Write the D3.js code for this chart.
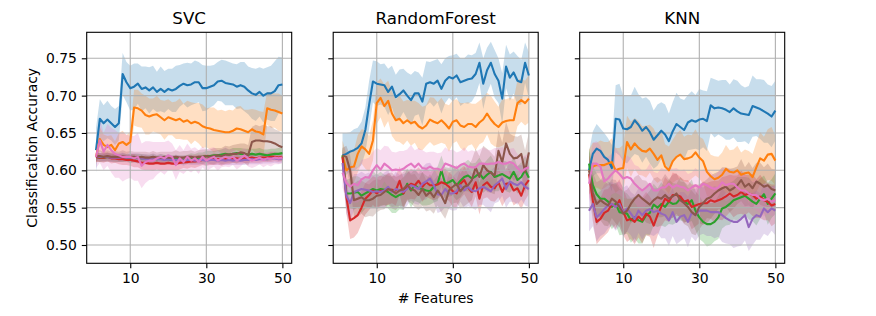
<!DOCTYPE html>
<html>
<head>
<meta charset="utf-8">
<script src="https://cdn.jsdelivr.net/npm/d3@7"></script>
<style>
  body { margin: 0; background: #fff; }
  text { font-family: "DejaVu Sans", sans-serif; fill: #000; }
</style>
</head>
<body>
<div id="chart"></div>
<script>
// number of features on the x axis
const features = [1,2,3,4,5,6,7,8,9,10,11,12,13,14,15,16,17,18,19,20,21,22,23,24,25,
  26,27,28,29,30,31,32,33,34,35,36,37,38,39,40,41,42,43,44,45,46,47,48,49,50];
const xTicks = [10, 30, 50];
const yTicks = [0.50, 0.55, 0.60, 0.65, 0.70, 0.75];
const classifiers = ["SVC", "RandomForest", "KNN"];
const seriesColors = ["#1f77b4", "#ff7f0e", "#2ca02c", "#d62728", "#9467bd", "#8c564b", "#e377c2"];

// ---- SVC: mean accuracy
const svcBlue = [0.627,0.669,0.663,0.668,0.663,0.658,0.663,0.729,0.718,0.710,0.712,0.716,0.709,0.711,0.707,0.711,0.705,0.709,0.705,0.709,
  0.707,0.709,0.713,0.716,0.714,0.715,0.718,0.718,0.710,0.710,0.712,0.714,0.719,0.720,0.717,0.716,0.715,0.712,0.714,0.712,
  0.707,0.703,0.701,0.705,0.700,0.703,0.703,0.706,0.714,0.715];
const svcOrange = [0.618,0.642,0.634,0.631,0.634,0.627,0.636,0.638,0.634,0.638,0.684,0.683,0.680,0.674,0.672,0.674,0.675,0.671,0.667,0.671,
  0.669,0.667,0.669,0.665,0.667,0.663,0.665,0.663,0.659,0.657,0.656,0.654,0.653,0.652,0.651,0.651,0.653,0.656,0.655,0.653,
  0.651,0.655,0.652,0.651,0.648,0.683,0.681,0.680,0.678,0.676];
const svcGreen = [0.618,0.617,0.617,0.618,0.617,0.617,0.616,0.617,0.617,0.616,0.616,0.617,0.616,0.616,0.615,0.616,0.615,0.616,0.615,0.615,
  0.614,0.615,0.615,0.614,0.615,0.616,0.616,0.617,0.618,0.619,0.619,0.620,0.620,0.621,0.622,0.621,0.622,0.623,0.622,0.622,
  0.621,0.622,0.621,0.622,0.621,0.620,0.621,0.622,0.622,0.623];
const svcRed = [0.618,0.617,0.617,0.618,0.616,0.616,0.615,0.615,0.614,0.614,0.613,0.612,0.610,0.610,0.609,0.609,0.610,0.609,0.609,0.610,
  0.609,0.609,0.610,0.611,0.611,0.612,0.612,0.613,0.614,0.614,0.614,0.615,0.615,0.614,0.615,0.615,0.616,0.616,0.615,0.616,
  0.616,0.617,0.616,0.617,0.617,0.617,0.618,0.618,0.617,0.618];
const svcPurple = [0.619,0.618,0.618,0.618,0.617,0.617,0.617,0.618,0.617,0.617,0.617,0.616,0.616,0.615,0.615,0.616,0.615,0.615,0.614,0.615,
  0.614,0.614,0.614,0.613,0.614,0.614,0.613,0.614,0.614,0.613,0.614,0.614,0.613,0.614,0.613,0.614,0.613,0.614,0.613,0.614,
  0.614,0.615,0.614,0.615,0.615,0.615,0.616,0.616,0.615,0.616];
const svcBrown = [0.619,0.619,0.618,0.619,0.618,0.618,0.618,0.619,0.618,0.618,0.618,0.617,0.618,0.617,0.617,0.618,0.617,0.617,0.618,0.617,
  0.617,0.618,0.617,0.617,0.618,0.618,0.617,0.618,0.618,0.619,0.618,0.619,0.620,0.619,0.621,0.621,0.622,0.622,0.624,0.623,
  0.620,0.638,0.640,0.640,0.639,0.639,0.638,0.636,0.633,0.631];
const svcPink = [0.618,0.640,0.625,0.634,0.627,0.622,0.620,0.618,0.618,0.618,0.616,0.618,0.606,0.611,0.613,0.613,0.616,0.618,0.616,0.620,
  0.618,0.607,0.616,0.611,0.618,0.613,0.616,0.611,0.618,0.613,0.616,0.618,0.613,0.616,0.618,0.616,0.618,0.613,0.616,0.620,
  0.616,0.613,0.615,0.617,0.614,0.616,0.615,0.617,0.616,0.617];

// ---- SVC: standard deviation (shaded band)
const svcBlueStd = [0.030,0.026,0.024,0.025,0.023,0.024,0.023,0.028,0.027,0.030,0.031,0.027,0.030,0.028,0.031,0.029,0.027,0.030,0.028,0.027,
  0.029,0.031,0.028,0.027,0.030,0.028,0.029,0.027,0.031,0.030,0.028,0.027,0.026,0.028,0.030,0.029,0.028,0.030,0.031,0.033,
  0.032,0.034,0.035,0.033,0.036,0.035,0.037,0.040,0.038,0.036];
const svcOrangeStd = [0.010,0.016,0.014,0.015,0.013,0.012,0.014,0.015,0.013,0.014,0.024,0.025,0.023,0.026,0.024,0.022,0.025,0.023,0.026,0.024,
  0.022,0.025,0.027,0.024,0.026,0.028,0.025,0.027,0.029,0.026,0.028,0.030,0.027,0.029,0.028,0.030,0.027,0.029,0.031,0.028,
  0.030,0.027,0.029,0.028,0.030,0.022,0.024,0.023,0.025,0.024];
const svcGreenStd = [0.006,0.006,0.005,0.006,0.005,0.006,0.005,0.006,0.005,0.006,0.006,0.005,0.006,0.005,0.006,0.006,0.005,0.006,0.006,0.005,
  0.006,0.006,0.005,0.006,0.006,0.007,0.006,0.007,0.006,0.007,0.007,0.006,0.007,0.007,0.008,0.007,0.008,0.007,0.008,0.007,
  0.008,0.007,0.008,0.008,0.007,0.008,0.008,0.007,0.008,0.008];
const svcRedStd = [0.007,0.006,0.007,0.006,0.007,0.006,0.007,0.008,0.007,0.008,0.009,0.008,0.009,0.010,0.009,0.010,0.009,0.010,0.009,0.010,
  0.009,0.010,0.009,0.008,0.009,0.008,0.009,0.008,0.007,0.008,0.007,0.008,0.007,0.008,0.007,0.007,0.006,0.007,0.006,0.007,
  0.006,0.007,0.006,0.007,0.006,0.006,0.007,0.006,0.006,0.006];
const svcPurpleStd = [0.006,0.005,0.006,0.005,0.006,0.005,0.006,0.006,0.005,0.006,0.006,0.007,0.006,0.007,0.006,0.007,0.006,0.007,0.006,0.007,
  0.006,0.007,0.006,0.007,0.006,0.007,0.006,0.007,0.006,0.007,0.006,0.007,0.006,0.007,0.006,0.007,0.006,0.007,0.006,0.007,
  0.006,0.007,0.006,0.007,0.006,0.006,0.007,0.006,0.006,0.006];
const svcBrownStd = [0.007,0.008,0.007,0.008,0.007,0.008,0.007,0.008,0.007,0.008,0.007,0.008,0.007,0.008,0.007,0.008,0.007,0.008,0.007,0.008,
  0.008,0.009,0.008,0.009,0.008,0.009,0.008,0.009,0.010,0.009,0.010,0.011,0.010,0.011,0.012,0.011,0.012,0.013,0.012,0.013,
  0.014,0.020,0.021,0.019,0.022,0.020,0.021,0.019,0.020,0.019];
const svcPinkStd = [0.015,0.030,0.025,0.028,0.030,0.032,0.030,0.033,0.030,0.028,0.030,0.032,0.030,0.028,0.026,0.025,0.022,0.020,0.022,0.020,
  0.018,0.020,0.018,0.016,0.018,0.016,0.015,0.016,0.014,0.015,0.014,0.013,0.014,0.012,0.013,0.012,0.011,0.012,0.011,0.010,
  0.011,0.010,0.010,0.009,0.010,0.009,0.010,0.009,0.008,0.008];

// ---- RandomForest: mean accuracy
const rfBlue = [0.620,0.622,0.625,0.627,0.630,0.636,0.654,0.688,0.719,0.716,0.715,0.714,0.705,0.712,0.698,0.702,0.707,0.700,0.694,0.703,
  0.703,0.692,0.716,0.718,0.716,0.720,0.709,0.720,0.725,0.723,0.727,0.718,0.720,0.722,0.723,0.729,0.744,0.716,0.734,0.744,
  0.729,0.720,0.696,0.739,0.724,0.731,0.720,0.718,0.744,0.727];
const rfOrange = [0.620,0.600,0.604,0.605,0.622,0.632,0.628,0.622,0.640,0.690,0.697,0.686,0.693,0.676,0.667,0.669,0.663,0.667,0.663,0.665,
  0.659,0.656,0.660,0.668,0.665,0.663,0.667,0.662,0.656,0.665,0.667,0.660,0.658,0.662,0.662,0.658,0.664,0.668,0.676,0.668,
  0.662,0.658,0.664,0.666,0.667,0.667,0.690,0.694,0.690,0.696];
const rfGreen = [0.620,0.569,0.569,0.570,0.571,0.566,0.569,0.572,0.575,0.573,0.575,0.574,0.571,0.567,0.564,0.567,0.569,0.582,0.573,0.580,
  0.576,0.575,0.573,0.572,0.578,0.582,0.600,0.582,0.584,0.587,0.580,0.586,0.591,0.593,0.589,0.592,0.596,0.589,0.594,0.598,
  0.591,0.593,0.595,0.592,0.589,0.598,0.587,0.591,0.600,0.590];
const rfRed = [0.618,0.565,0.533,0.536,0.540,0.550,0.562,0.567,0.573,0.569,0.573,0.572,0.575,0.574,0.573,0.586,0.569,0.578,0.582,0.580,
  0.586,0.578,0.584,0.580,0.580,0.581,0.584,0.582,0.578,0.572,0.569,0.582,0.587,0.577,0.571,0.584,0.562,0.580,0.584,0.578,
  0.576,0.584,0.571,0.582,0.583,0.573,0.576,0.566,0.580,0.587];
const rfPurple = [0.610,0.566,0.556,0.571,0.573,0.575,0.574,0.573,0.571,0.572,0.571,0.573,0.578,0.571,0.575,0.573,0.571,0.575,0.580,0.578,
  0.575,0.582,0.585,0.589,0.580,0.568,0.567,0.575,0.569,0.569,0.572,0.580,0.573,0.578,0.573,0.572,0.576,0.578,0.575,0.572,
  0.580,0.584,0.589,0.575,0.585,0.582,0.580,0.584,0.578,0.575];
const rfBrown = [0.620,0.618,0.600,0.560,0.562,0.564,0.560,0.560,0.562,0.566,0.567,0.571,0.575,0.573,0.569,0.573,0.575,0.580,0.575,0.573,
  0.567,0.575,0.566,0.571,0.564,0.573,0.566,0.556,0.573,0.578,0.582,0.572,0.578,0.580,0.587,0.604,0.591,0.607,0.600,0.597,
  0.593,0.626,0.611,0.636,0.622,0.616,0.617,0.622,0.598,0.624];
const rfPink = [0.597,0.583,0.578,0.582,0.580,0.588,0.591,0.590,0.600,0.607,0.601,0.609,0.605,0.600,0.601,0.600,0.602,0.606,0.609,0.604,
  0.609,0.603,0.602,0.605,0.602,0.602,0.600,0.609,0.607,0.605,0.603,0.607,0.609,0.605,0.604,0.604,0.609,0.609,0.608,0.609,
  0.609,0.611,0.609,0.609,0.611,0.609,0.603,0.598,0.602,0.604];

// ---- RandomForest: standard deviation
const rfBlueStd = [0.030,0.028,0.026,0.028,0.027,0.029,0.030,0.032,0.028,0.030,0.027,0.029,0.031,0.028,0.030,0.033,0.029,0.031,0.034,0.030,
  0.028,0.032,0.030,0.027,0.031,0.029,0.033,0.030,0.028,0.031,0.029,0.032,0.030,0.033,0.031,0.028,0.027,0.034,0.030,0.028,
  0.032,0.030,0.034,0.029,0.031,0.028,0.033,0.030,0.027,0.031];
const rfOrangeStd = [0.020,0.022,0.024,0.022,0.025,0.023,0.026,0.024,0.027,0.028,0.026,0.029,0.027,0.030,0.028,0.031,0.029,0.027,0.030,0.028,
  0.031,0.029,0.027,0.030,0.032,0.028,0.030,0.027,0.031,0.029,0.028,0.030,0.032,0.029,0.027,0.031,0.029,0.030,0.028,0.032,
  0.030,0.027,0.031,0.029,0.030,0.028,0.031,0.029,0.030,0.032];
const rfGreenStd = [0.012,0.018,0.020,0.022,0.021,0.023,0.020,0.022,0.024,0.021,0.023,0.020,0.022,0.024,0.021,0.019,0.022,0.020,0.023,0.021,
  0.019,0.022,0.020,0.018,0.021,0.023,0.020,0.022,0.019,0.021,0.020,0.022,0.019,0.021,0.020,0.018,0.021,0.019,0.020,0.022,
  0.019,0.021,0.018,0.020,0.019,0.021,0.018,0.020,0.019,0.020];
const rfRedStd = [0.012,0.022,0.025,0.026,0.024,0.022,0.021,0.020,0.019,0.021,0.020,0.019,0.021,0.018,0.020,0.019,0.021,0.018,0.020,0.019,
  0.018,0.020,0.019,0.018,0.020,0.019,0.018,0.020,0.019,0.021,0.018,0.020,0.019,0.018,0.020,0.019,0.021,0.018,0.020,0.019,
  0.018,0.020,0.019,0.021,0.018,0.020,0.019,0.018,0.020,0.019];
const rfPurpleStd = [0.015,0.024,0.026,0.024,0.022,0.023,0.021,0.024,0.022,0.023,0.021,0.024,0.022,0.020,0.023,0.021,0.024,0.022,0.020,0.023,
  0.021,0.022,0.024,0.021,0.023,0.025,0.022,0.024,0.021,0.023,0.025,0.022,0.024,0.026,0.023,0.025,0.022,0.024,0.026,0.028,
  0.024,0.026,0.023,0.025,0.027,0.024,0.026,0.023,0.025,0.024];
const rfBrownStd = [0.010,0.015,0.020,0.022,0.024,0.022,0.023,0.021,0.024,0.022,0.020,0.023,0.021,0.024,0.022,0.020,0.023,0.021,0.019,0.022,
  0.020,0.023,0.021,0.024,0.022,0.020,0.023,0.021,0.024,0.022,0.025,0.023,0.026,0.024,0.027,0.025,0.028,0.026,0.029,0.027,
  0.025,0.028,0.026,0.029,0.027,0.030,0.028,0.026,0.029,0.027];
const rfPinkStd = [0.020,0.024,0.022,0.025,0.023,0.026,0.024,0.027,0.025,0.023,0.026,0.024,0.027,0.025,0.023,0.026,0.024,0.022,0.025,0.023,
  0.021,0.024,0.022,0.020,0.023,0.021,0.024,0.022,0.020,0.023,0.021,0.019,0.022,0.020,0.023,0.021,0.019,0.022,0.020,0.018,
  0.021,0.019,0.022,0.020,0.018,0.021,0.019,0.020,0.018,0.019];

// ---- KNN: mean accuracy
const knnBlue = [0.600,0.622,0.629,0.626,0.618,0.614,0.603,0.669,0.668,0.656,0.655,0.658,0.667,0.661,0.653,0.658,0.651,0.641,0.647,0.653,
  0.648,0.639,0.652,0.662,0.658,0.654,0.664,0.667,0.665,0.668,0.669,0.666,0.687,0.683,0.684,0.683,0.681,0.678,0.683,0.679,
  0.676,0.675,0.674,0.686,0.684,0.682,0.679,0.676,0.672,0.680];
const knnOrange = [0.598,0.605,0.607,0.607,0.607,0.609,0.611,0.600,0.602,0.603,0.638,0.628,0.636,0.630,0.626,0.625,0.629,0.622,0.614,0.620,
  0.605,0.600,0.612,0.618,0.621,0.615,0.616,0.618,0.624,0.617,0.612,0.598,0.592,0.588,0.590,0.594,0.602,0.598,0.597,0.600,
  0.594,0.596,0.597,0.591,0.604,0.616,0.613,0.621,0.622,0.613];
const knnGreen = [0.609,0.580,0.568,0.562,0.562,0.558,0.551,0.555,0.544,0.543,0.542,0.533,0.537,0.533,0.531,0.540,0.543,0.554,0.550,0.555,
  0.551,0.558,0.555,0.556,0.562,0.558,0.555,0.560,0.546,0.537,0.531,0.528,0.528,0.531,0.537,0.549,0.551,0.555,0.560,0.562,
  0.564,0.566,0.562,0.558,0.555,0.562,0.568,0.555,0.562,0.569];
const knnRed = [0.595,0.560,0.531,0.535,0.543,0.546,0.555,0.551,0.560,0.544,0.533,0.535,0.531,0.538,0.533,0.542,0.538,0.526,0.540,0.551,
  0.562,0.558,0.567,0.567,0.565,0.558,0.560,0.551,0.553,0.555,0.556,0.556,0.560,0.558,0.560,0.562,0.565,0.569,0.565,0.567,
  0.571,0.567,0.569,0.567,0.562,0.565,0.560,0.558,0.553,0.555];
const knnPurple = [0.546,0.555,0.537,0.542,0.548,0.553,0.555,0.551,0.555,0.544,0.549,0.542,0.535,0.546,0.540,0.546,0.548,0.544,0.546,0.542,
  0.540,0.533,0.544,0.531,0.538,0.540,0.531,0.543,0.540,0.546,0.546,0.546,0.544,0.544,0.544,0.540,0.536,0.533,0.531,0.531,
  0.535,0.540,0.524,0.535,0.540,0.538,0.549,0.544,0.549,0.546];
const knnBrown = [0.600,0.570,0.555,0.560,0.556,0.553,0.562,0.558,0.551,0.542,0.546,0.555,0.562,0.567,0.562,0.558,0.554,0.560,0.564,0.562,
  0.567,0.562,0.565,0.569,0.560,0.556,0.551,0.544,0.540,0.551,0.556,0.562,0.564,0.569,0.573,0.576,0.578,0.573,0.576,0.580,
  0.587,0.578,0.582,0.576,0.585,0.582,0.578,0.580,0.575,0.573];
const knnPink = [0.582,0.609,0.609,0.605,0.585,0.589,0.595,0.600,0.595,0.589,0.591,0.589,0.582,0.577,0.573,0.577,0.582,0.573,0.573,0.577,
  0.577,0.582,0.577,0.580,0.578,0.577,0.573,0.577,0.580,0.577,0.582,0.580,0.577,0.575,0.577,0.584,0.580,0.582,0.582,0.577,
  0.573,0.573,0.569,0.567,0.567,0.562,0.560,0.562,0.558,0.560];

// ---- KNN: standard deviation
const knnBlueStd = [0.025,0.030,0.033,0.030,0.032,0.029,0.031,0.045,0.048,0.044,0.046,0.042,0.045,0.041,0.043,0.040,0.042,0.039,0.041,0.038,
  0.040,0.037,0.039,0.042,0.038,0.040,0.037,0.039,0.036,0.041,0.038,0.040,0.037,0.039,0.036,0.038,0.040,0.037,0.039,0.041,
  0.038,0.036,0.039,0.041,0.038,0.040,0.042,0.039,0.041,0.040];
const knnOrangeStd = [0.030,0.032,0.030,0.033,0.031,0.029,0.032,0.030,0.028,0.031,0.035,0.037,0.034,0.036,0.033,0.035,0.032,0.034,0.031,0.033,
  0.030,0.032,0.029,0.031,0.033,0.030,0.032,0.029,0.031,0.028,0.030,0.032,0.029,0.031,0.028,0.030,0.032,0.029,0.031,0.033,
  0.030,0.032,0.029,0.031,0.033,0.035,0.032,0.034,0.036,0.033];
const knnGreenStd = [0.020,0.025,0.028,0.026,0.029,0.027,0.030,0.028,0.031,0.029,0.027,0.030,0.028,0.031,0.029,0.027,0.030,0.028,0.026,0.029,
  0.027,0.030,0.028,0.026,0.029,0.027,0.025,0.028,0.026,0.029,0.027,0.030,0.028,0.026,0.029,0.027,0.025,0.028,0.026,0.029,
  0.027,0.025,0.028,0.026,0.029,0.027,0.025,0.028,0.026,0.027];
const knnRedStd = [0.025,0.028,0.030,0.028,0.031,0.029,0.027,0.030,0.028,0.031,0.029,0.027,0.030,0.028,0.031,0.029,0.027,0.030,0.028,0.026,
  0.029,0.027,0.030,0.028,0.026,0.029,0.027,0.030,0.028,0.026,0.029,0.027,0.025,0.028,0.026,0.029,0.027,0.025,0.028,0.026,
  0.029,0.027,0.025,0.028,0.026,0.029,0.027,0.025,0.028,0.026];
const knnPurpleStd = [0.028,0.030,0.032,0.030,0.033,0.031,0.029,0.032,0.030,0.033,0.031,0.029,0.032,0.030,0.033,0.031,0.034,0.032,0.030,0.033,
  0.031,0.034,0.032,0.030,0.033,0.031,0.034,0.032,0.035,0.033,0.031,0.034,0.032,0.035,0.033,0.036,0.034,0.032,0.035,0.033,
  0.036,0.034,0.032,0.035,0.033,0.031,0.034,0.032,0.030,0.033];
const knnBrownStd = [0.025,0.027,0.029,0.027,0.030,0.028,0.026,0.029,0.027,0.030,0.028,0.026,0.029,0.027,0.025,0.028,0.026,0.029,0.027,0.025,
  0.028,0.026,0.029,0.027,0.025,0.028,0.026,0.029,0.027,0.030,0.028,0.026,0.029,0.027,0.025,0.028,0.026,0.029,0.027,0.025,
  0.028,0.026,0.029,0.027,0.025,0.028,0.026,0.029,0.027,0.028];
const knnPinkStd = [0.025,0.028,0.030,0.028,0.031,0.029,0.027,0.030,0.028,0.026,0.029,0.027,0.025,0.028,0.026,0.024,0.027,0.025,0.023,0.026,
  0.024,0.022,0.025,0.023,0.021,0.024,0.022,0.020,0.023,0.021,0.019,0.022,0.020,0.018,0.021,0.019,0.022,0.020,0.018,0.021,
  0.019,0.022,0.020,0.018,0.021,0.019,0.022,0.020,0.019,0.020];

const panels = [
  { title: classifiers[0],
    means: [svcBlue, svcOrange, svcGreen, svcRed, svcPurple, svcBrown, svcPink],
    stds: [svcBlueStd, svcOrangeStd, svcGreenStd, svcRedStd, svcPurpleStd, svcBrownStd, svcPinkStd] },
  { title: classifiers[1],
    means: [rfBlue, rfOrange, rfGreen, rfRed, rfPurple, rfBrown, rfPink],
    stds: [rfBlueStd, rfOrangeStd, rfGreenStd, rfRedStd, rfPurpleStd, rfBrownStd, rfPinkStd] },
  { title: classifiers[2],
    means: [knnBlue, knnOrange, knnGreen, knnRed, knnPurple, knnBrown, knnPink],
    stds: [knnBlueStd, knnOrangeStd, knnGreenStd, knnRedStd, knnPurpleStd, knnBrownStd, knnPinkStd] }
];

const width = 876;
const height = 316;
const panelLeft = [86.7, 333.2, 579.7];
const panelTop = 32.3;
const panelW = 205;
const panelH = 231;
const tickLen = 4.9;
const tickPad = 4.9;

const svg = d3.select("#chart")
  .append("svg")
  .attr("width", width)
  .attr("height", height);

const x = d3.scaleLinear().domain([-1.45, 52.45]).range([0, panelW]);
const y = d3.scaleLinear().domain([0.4755, 0.7848]).range([panelH, 0]);

panels.forEach((p, pi) => {
  const g = svg.append("g")
    .attr("transform", `translate(${panelLeft[pi]},${panelTop})`);

  g.append("clipPath").attr("id", "clip" + pi)
    .append("rect").attr("width", panelW).attr("height", panelH);

  const plot = g.append("g").attr("clip-path", `url(#clip${pi})`);

  // shaded bands (mean +/- std)
  p.means.forEach((m, si) => {
    const s = p.stds[si];
    const band = d3.area()
      .x((d, i) => x(features[i]))
      .y0((d, i) => y(m[i] - s[i]))
      .y1((d, i) => y(m[i] + s[i]));
    plot.append("path")
      .datum(m)
      .attr("d", band)
      .attr("fill", seriesColors[si])
      .attr("fill-opacity", 0.25);
  });

  // grid
  plot.append("g").selectAll("line")
    .data(xTicks).join("line")
    .attr("x1", d => x(d)).attr("x2", d => x(d))
    .attr("y1", 0).attr("y2", panelH)
    .attr("stroke", "#b0b0b0").attr("stroke-width", 1.1);
  plot.append("g").selectAll("line")
    .data(yTicks).join("line")
    .attr("x1", 0).attr("x2", panelW)
    .attr("y1", d => y(d)).attr("y2", d => y(d))
    .attr("stroke", "#b0b0b0").attr("stroke-width", 1.1);

  // mean lines
  p.means.forEach((m, si) => {
    const line = d3.line()
      .x((d, i) => x(features[i]))
      .y(d => y(d));
    plot.append("path")
      .datum(m)
      .attr("d", line)
      .attr("fill", "none")
      .attr("stroke", seriesColors[si])
      .attr("stroke-width", 2.1)
      .attr("stroke-linejoin", "round");
  });

  // axes
  const xAxis = d3.axisBottom(x)
    .tickValues(xTicks)
    .tickSize(tickLen)
    .tickPadding(tickPad)
    .tickFormat(d3.format("d"));
  const gx = g.append("g")
    .attr("transform", `translate(0,${panelH})`)
    .call(xAxis);

  const yAxis = d3.axisLeft(y)
    .tickValues(yTicks)
    .tickSize(tickLen)
    .tickPadding(tickPad)
    .tickFormat(pi === 0 ? d3.format(".2f") : () => "");
  const gy = g.append("g").call(yAxis);

  [gx, gy].forEach(a => {
    a.select(".domain").remove();
    a.selectAll(".tick line").attr("stroke", "#000").attr("stroke-width", 1.1);
    a.selectAll(".tick text")
      .attr("font-family", "DejaVu Sans, sans-serif")
      .attr("font-size", 13.9)
      .attr("fill", "#000");
  });

  // spines
  g.append("rect")
    .attr("width", panelW).attr("height", panelH)
    .attr("fill", "none")
    .attr("stroke", "#000").attr("stroke-width", 1.1);

  // title
  g.append("text")
    .attr("x", panelW / 2).attr("y", -8.6)
    .attr("text-anchor", "middle")
    .attr("font-size", 16.7)
    .text(p.title);
});

// axis labels
svg.append("text")
  .attr("x", panelLeft[1] + panelW / 2)
  .attr("y", 303)
  .attr("text-anchor", "middle")
  .attr("font-size", 13.9)
  .text("# Features");

svg.append("text")
  .attr("transform", `translate(36.5,${panelTop + panelH / 2}) rotate(-90)`)
  .attr("text-anchor", "middle")
  .attr("font-size", 13.9)
  .text("Classification Accuracy");
</script>
</body>
</html>
